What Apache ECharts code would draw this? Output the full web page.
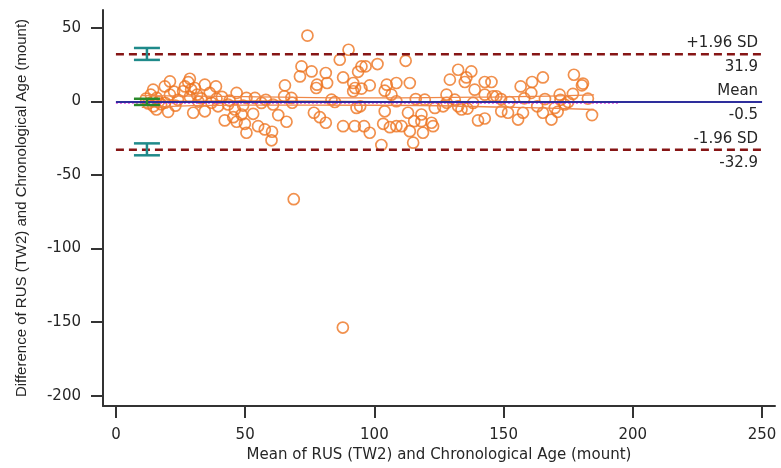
<!DOCTYPE html>
<html><head><meta charset="utf-8">
<script src="https://cdn.jsdelivr.net/npm/echarts@6/dist/echarts.min.js"></script>
<style>html,body{margin:0;padding:0;background:#fff}#c{width:781px;height:468px}</style>
</head><body><div id="c"></div>
<script>
// Bland-Altman data: mean (x) and difference (y)
const meanVals = [
11.6,13.5,14.4,14.5,14.4,15.8,15.7,17.5,18.9,20.9,20.9,20.2,12.5,16.5,22.5,24,
26,26.7,28,28.6,29.1,28.6,29.9,30.5,31.4,31.9,34.4,34.4,36.3,38.7,38.9,39.5,42.1,43.4,45.4,46,46.7,46.7,48.6,49.2,49.9,50.5,50.5,53.1,53.8,55,56.3,57.6,60.2,60.4,60.8,62.8,65.1,65.4,66,67.9,68.2,68.8,
19,23,33,37,41,44,58,
71.2,71.8,74.1,75.7,76.6,77.5,77.8,78.9,81.2,81.2,81.7,83.4,84.7,86.6,87.8,87.9,87.9,90,91.8,91.8,92.5,92.4,93.1,93.7,95,96.6,95,94.5,96,98.2,98.2,101.2,102.7,103.4,104,104,104.8,106,106.6,108.5,108.5,108.5,110.5,112.1,113,113.7,113.7,115,115.4,116,118.2,118.2,118.8,119.5,
122.1,122.7,123.4,126.6,127.9,129.2,131.1,132.4,132.4,133.7,135,135.6,137.5,138.2,138.8,140.1,142.7,142.7,142.7,145.3,145.9,147.2,149.1,151.7,152.3,155.6,156.6,157.5,160.7,161,163,165.2,165.2,168.5,169.8,170.9,171.7,172,173.6,176.8,177.2,180.3,180.7,182.6,184.2,158,166,175,149,128,136
];
const diffVals = [
1.8,4.5,7.9,-3.4,0,2.3,-5.6,-2,10.1,13.5,4.5,-7.2,-1.5,-0.5,6.5,1,
6.8,10.1,13,15.3,8,3,-7.8,9,4.5,-0.2,11.3,-6.8,5.7,10.1,1.8,-3.4,-13,-2.2,-10.8,-5.6,5.7,-13.9,-9,-2.9,-15.3,2.3,-21.4,-8.5,2.3,-16.9,-1.1,-19.1,-26.5,-20.7,-2.2,-9.4,3.4,10.8,-13.9,2.3,-1,-66.5,
-1,-3,2,-1,3,0.5,1,
16.9,23.7,44.6,20.3,-7.8,9,11.3,-10.8,19.2,-14.6,12.4,1.1,-0.5,28.2,-153.7,16.2,-16.9,35,12.4,6.8,9,-16.9,-4.5,20,23.7,23.7,8.6,-3.4,-16.9,10.8,-21.4,25.3,-29.7,-15.3,7.2,-6.8,11.3,-17.6,4.5,12.4,0,-16.9,-16.9,27.5,-7.8,12.4,-20.3,-28.1,-13.5,1.5,-9,-13.5,-21.4,1.1,
-14.6,-16.9,-4.5,-3.4,4.5,14.7,1.1,21.4,-3.4,-5.6,13.1,16.2,20.3,-1.1,7.9,-13,13.1,4.5,-11.7,13.1,3.4,3.4,-6.8,-7.8,-0.5,-12.4,10.1,-7.8,5.7,13.1,-3.4,16.2,-7.8,-12.4,-4.5,-7.2,4.5,1,-2.2,5,18,10.8,12,1.8,-9.4,2,1.5,-0.5,1.5,-1,-5
];

// Reference lines
const refValues = [31.9, -0.5, -32.9];
const refNames = ['+1.96 SD', 'Mean', '-1.96 SD'];
const refValueLabels = ['31.9', '-0.5', '-32.9'];
const lineStart = 0, lineEnd = 250;

// Confidence intervals (drawn at x = 12): [low, high]
const ciX = 12;
const sdUpperCI = [28.1, 36.2];
const meanCI = [-2.5, 1.7];
const sdLowerCI = [-36.7, -28.6];

// Regression of differences and its confidence band
const regX = [10, 50, 100, 150, 185];
const regMid = [-0.1, 0.2, -0.2, -0.5, -0.7];
const regUp = [3.9, 3.1, 2.3, 3.0, 4.3];
const regLo = [-4.1, -2.6, -2.7, -4.0, -5.6];
const dottedX = [0, 195];
const dottedY = -1.1;

// Axis ticks
const xTicks = [0, 50, 100, 150, 200, 250];
const yTicks = [-200, -150, -100, -50, 0, 50];

const FONT = 'DejaVu Sans';
const TXT = '#262626';

const points = meanVals.map((m, i) => [m, diffVals[i]]);

function ibeam(color) {
  return function (params, api) {
    const top = api.coord([api.value(0), api.value(2)]);
    const bot = api.coord([api.value(0), api.value(1)]);
    const hw = 13;
    const st = { stroke: color, lineWidth: 2.5 };
    return { type: 'group', children: [
      { type: 'line', shape: { x1: top[0], y1: top[1], x2: bot[0], y2: bot[1] }, style: st },
      { type: 'line', shape: { x1: top[0] - hw, y1: top[1], x2: top[0] + hw, y2: top[1] }, style: st },
      { type: 'line', shape: { x1: bot[0] - hw, y1: bot[1], x2: bot[0] + hw, y2: bot[1] }, style: st }
    ]};
  };
}

const refLineSeries = refValues.map((v, i) => ({
  type: 'line', symbol: 'none', z: 4, silent: true,
  data: [[lineStart, v], [lineEnd, v]],
  lineStyle: i === 1 ? { color: '#2e2e9c', width: 2 } : { color: '#861515', width: 2.5, type: [8, 5] }
}));

const labelData = [];
refValues.forEach((v, i) => {
  labelData.push([lineEnd, v, refNames[i], -1]);
  labelData.push([lineEnd, v, refValueLabels[i], 1]);
});

const option = {
  animation: false,
  backgroundColor: '#fff',
  grid: { left: 103, right: 6, top: 10, bottom: 61 },
  xAxis: {
    type: 'value', min: -5, max: 255,
    name: 'Mean of RUS (TW2) and Chronological Age (mount)',
    nameLocation: 'middle', nameGap: 42,
    nameTextStyle: { fontFamily: FONT, fontSize: 15, color: TXT },
    axisLine: { show: true, onZero: false, lineStyle: { color: '#333', width: 2 } },
    axisTick: { show: true, length: 12, customValues: xTicks, lineStyle: { color: '#333', width: 2 } },
    axisLabel: { customValues: xTicks, margin: 22, fontFamily: FONT, fontSize: 15, color: TXT },
    splitLine: { show: false }
  },
  yAxis: {
    type: 'value', min: -207, max: 62,
    name: 'Difference of RUS (TW2) and Chronological Age (mount)',
    nameLocation: 'middle', nameGap: 74,
    nameTextStyle: { fontFamily: 'Liberation Sans', fontSize: 15, color: TXT },
    axisLine: { show: true, onZero: false, lineStyle: { color: '#333', width: 2 } },
    axisTick: { show: true, length: 12, customValues: yTicks, lineStyle: { color: '#333', width: 2 } },
    axisLabel: { customValues: yTicks, margin: 22, fontFamily: FONT, fontSize: 15, color: TXT },
    splitLine: { show: false }
  },
  series: [
    {
      type: 'scatter', z: 2, silent: true,
      data: points, symbol: 'circle', symbolSize: 11,
      itemStyle: { color: 'rgba(0,0,0,0)', borderColor: '#ee7420', borderWidth: 1.7 }
    },
    { type: 'line', symbol: 'none', z: 3, data: regX.map((x, i) => [x, regUp[i]]), smooth: true, lineStyle: { color: '#ef8848', width: 1.3 } },
    { type: 'line', symbol: 'none', z: 3, data: regX.map((x, i) => [x, regMid[i]]), smooth: true, lineStyle: { color: '#ee7a30', width: 1.3 } },
    { type: 'line', symbol: 'none', z: 3, data: regX.map((x, i) => [x, regLo[i]]), smooth: true, lineStyle: { color: '#ef8848', width: 1.3 } },
    { type: 'line', symbol: 'none', z: 3, data: dottedX.map(x => [x, dottedY]), lineStyle: { color: '#e040e0', width: 1.5, type: [2, 2] } },
    ...refLineSeries,
    { type: 'custom', z: 6, silent: true, renderItem: ibeam('#1f8a8a'),
      data: [[ciX, sdUpperCI[0], sdUpperCI[1]], [ciX, sdLowerCI[0], sdLowerCI[1]]] },
    { type: 'custom', z: 6, silent: true, renderItem: ibeam('#2a8a2a'),
      data: [[ciX, meanCI[0], meanCI[1]]] },
    { type: 'custom', z: 7, silent: true,
      data: labelData,
      renderItem: function (params, api) {
        const p = api.coord([api.value(0), api.value(1)]);
        const side = api.value(3);
        return { type: 'text', x: p[0] - 4, y: p[1] + (side < 0 ? -11 : 13),
          style: { text: labelData[params.dataIndex][2], textAlign: 'right', textVerticalAlign: 'middle',
            fill: TXT, font: '15px "' + FONT + '"' } };
      }
    }
  ]
};
const chart = echarts.init(document.getElementById('c'), null, { renderer: 'canvas' });
chart.setOption(option);
</script></body></html>
